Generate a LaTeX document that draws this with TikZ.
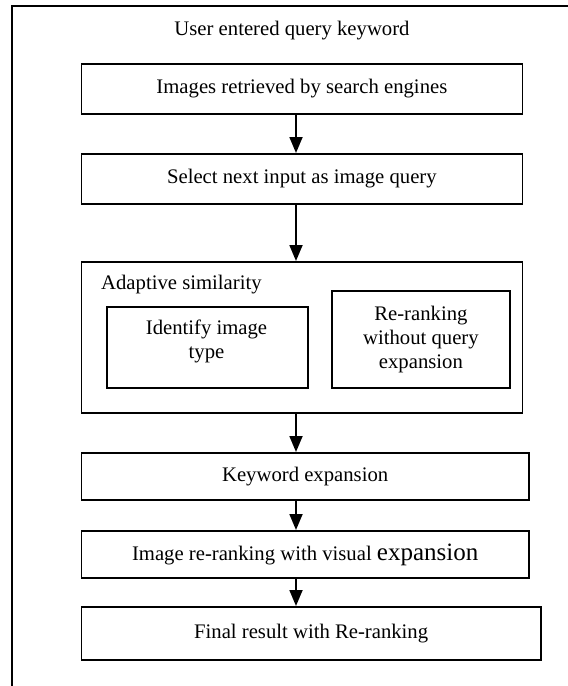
\documentclass[tikz,border=0pt]{standalone}
\usepackage{fontspec}
\setmainfont{Liberation Serif}
\usetikzlibrary{arrows.meta}
\begin{document}
\begin{tikzpicture}[x=1pt,y=-1pt,
  box/.style={draw, line width=1.8pt, inner sep=0pt, anchor=north west,
    font=\fontsize{20.7}{24}\selectfont, align=center},
  lbl/.style={font=\fontsize{20.7}{24}\selectfont, align=center, inner sep=0pt},
  arr/.style={-{Triangle[length=16pt,width=13pt]}, line width=1.8pt}]
\useasboundingbox (0,0) rectangle (568,686);
\coordinate (fb) at (12,686);
\coordinate (fc) at (12,6);
\coordinate (fr) at (568,6);
\draw[line width=1.6pt] (fb) -- (fc) -- (fr);
\coordinate (ax) at (296,0);

\node[lbl] (title) at (292,31) {User entered query keyword};

\node[box, minimum width=441pt, minimum height=50pt] (b1) at (80.5,63) {Images retrieved by search engines};
\node[box, minimum width=441pt, minimum height=50pt] (b2) at (80.5,153) {Select next input as image query};
\node[box, minimum width=441pt, minimum height=151pt] (ad) at (80.5,261) {};
\node[lbl, anchor=west] (adl) at (101,285) {Adaptive similarity};
\node[box, minimum width=201pt, minimum height=81pt] (il) at (106,306) {};
\node[lbl] (ilt) at (206.5,341) {Identify image\\type};
\node[box, minimum width=178pt, minimum height=97pt] (ir) at (331,290) {Re-ranking\\without query\\expansion};
\node[box, minimum width=447.5pt, minimum height=47pt] (kw) at (80.5,452) {Keyword expansion};
\node[box, minimum width=447.5pt, minimum height=47pt] (vr) at (80.5,530) {Image re-ranking with visual {\fontsize{25}{28}\selectfont expansion}};
\node[box, minimum width=459.5pt, minimum height=53pt] (fin) at (80.5,606) {Final result with Re-ranking};

\draw[arr] (b1.south -| ax) -- (b2.north -| ax);
\draw[arr] (b2.south -| ax) -- (ad.north -| ax);
\draw[arr] (ad.south -| ax) -- (kw.north -| ax);
\draw[arr] (kw.south -| ax) -- (vr.north -| ax);
\draw[arr] (vr.south -| ax) -- (fin.north -| ax);
\end{tikzpicture}
\end{document}
